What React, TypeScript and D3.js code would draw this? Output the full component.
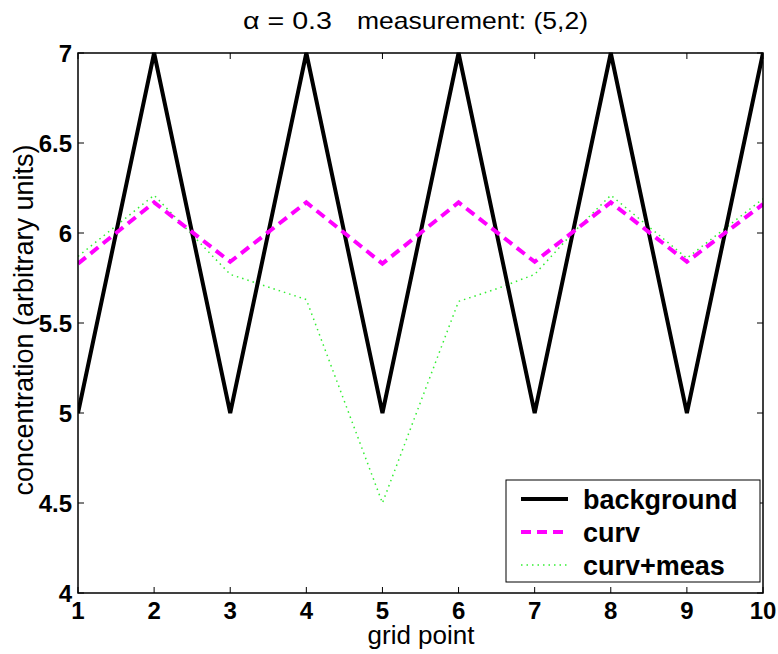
import React from "react";
import * as d3 from "d3";

const gridPoints = [1, 2, 3, 4, 5, 6, 7, 8, 9, 10];
const background = [5, 7, 5, 7, 5, 7, 5, 7, 5, 7];
const curv = [5.83, 6.17, 5.84, 6.17, 5.83, 6.17, 5.84, 6.17, 5.84, 6.16];
const curvMeasX = [1, 2, 3, 4, 5, 6, 6.5, 7, 7.5, 8, 9, 10];
const curvMeas = [5.87, 6.21, 5.77, 5.63, 4.5, 5.62, 5.69, 5.77, 6.0, 6.21, 5.86, 6.19];
const xTicks = [1, 2, 3, 4, 5, 6, 7, 8, 9, 10];
const yTicks = [4, 4.5, 5, 5.5, 6, 6.5, 7];
const legendLabels = ["background", "curv", "curv+meas"];
const titleParts = ["α = 0.3", "measurement: (5,2)"];

export default function App() {
  const W = 778, H = 654;
  const left = 78, right = 763, top = 53, bottom = 593;
  const x = d3.scaleLinear().domain([1, 10]).range([left, right]);
  const y = d3.scaleLinear().domain([4, 7]).range([bottom, top]);
  const line = d3.line<[number, number]>().x(d => x(d[0])).y(d => y(d[1]));
  const bgPath = line(gridPoints.map((g, i) => [g, background[i]]))!;
  const curvPath = line(gridPoints.map((g, i) => [g, curv[i]]))!;
  const measPath = line(curvMeasX.map((g, i) => [g, curvMeas[i]]))!;
  const font = "Liberation Sans, Arial, sans-serif";
  const tk = 6;
  const styles = [
    { stroke: "#000", width: 4, dash: "none" },
    { stroke: "#ff00ff", width: 4, dash: "10,6" },
    { stroke: "#33ee33", width: 1.5, dash: "1.5,4" },
  ];
  const lx = 506, ly = 480, lw = 254, lh = 102;
  return (
    <svg width={W} height={H} style={{ position: "absolute", left: 0, top: 0, background: "#fff" }}>
      <defs>
        <clipPath id="clip">
          <rect x={left} y={top - 3} width={right - left} height={bottom - top + 6} />
        </clipPath>
      </defs>
      <text x={243} y={29} fontFamily={font} fontSize={24} textLength={89} lengthAdjust="spacingAndGlyphs">{titleParts[0]}</text>
      <text x={357} y={29} fontFamily={font} fontSize={24} textLength={231} lengthAdjust="spacingAndGlyphs">{titleParts[1]}</text>
      <g clipPath="url(#clip)">
        <path d={measPath} fill="none" stroke={styles[2].stroke} strokeWidth={styles[2].width} strokeDasharray={styles[2].dash} />
        <path d={bgPath} fill="none" stroke={styles[0].stroke} strokeWidth={styles[0].width} strokeLinejoin="miter" />
        <path d={curvPath} fill="none" stroke={styles[1].stroke} strokeWidth={styles[1].width} strokeDasharray={styles[1].dash} />
      </g>
      <rect x={left} y={top} width={right - left} height={bottom - top} fill="none" stroke="#000" strokeWidth={1.5} />
      {xTicks.map(t => (
        <g key={"x" + t}>
          <line x1={x(t)} x2={x(t)} y1={bottom} y2={bottom - tk} stroke="#000" />
          <line x1={x(t)} x2={x(t)} y1={top} y2={top + tk} stroke="#000" />
          <text x={x(t)} y={619} textAnchor="middle" fontFamily={font} fontSize={24} fontWeight="bold">{t}</text>
        </g>
      ))}
      {yTicks.map(t => (
        <g key={"y" + t}>
          <line x1={left} x2={left + tk} y1={y(t)} y2={y(t)} stroke="#000" />
          <line x1={right} x2={right - tk} y1={y(t)} y2={y(t)} stroke="#000" />
          <text x={72} y={y(t) + 8.5} textAnchor="end" fontFamily={font} fontSize={24} fontWeight="bold">{t}</text>
        </g>
      ))}
      <text x={421} y={644} textAnchor="middle" fontFamily={font} fontSize={26}>grid point</text>
      <text transform={`translate(33,320) rotate(-90)`} textAnchor="middle" fontFamily={font} fontSize={27}>
        concentration (arbitrary units)
      </text>
      <rect x={lx} y={ly} width={lw} height={lh} fill="#fff" stroke="#000" strokeWidth={1} />
      {legendLabels.map((lab, i) => {
        const yy = 499 + i * 33;
        const s = styles[i];
        return (
          <g key={lab}>
            <line x1={521} x2={568} y1={yy} y2={yy} stroke={s.stroke} strokeWidth={s.width} strokeDasharray={s.dash} />
            <text x={583} y={yy + 9.5} fontFamily={font} fontSize={27} fontWeight="bold">{lab}</text>
          </g>
        );
      })}
    </svg>
  );
}
